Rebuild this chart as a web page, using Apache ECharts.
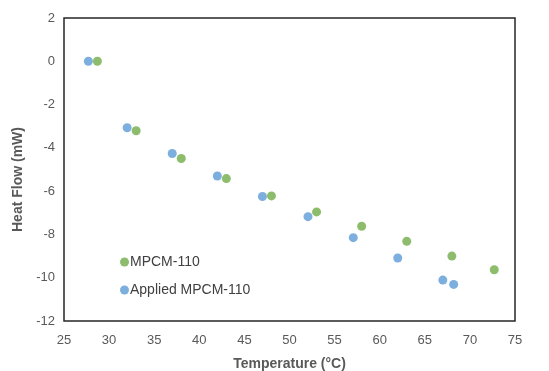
<!DOCTYPE html>
<html><head><meta charset="utf-8">
<script src="https://cdn.jsdelivr.net/npm/echarts@6/dist/echarts.min.js"></script>
<style>html,body{margin:0;padding:0;background:#fff}#c{width:549px;height:371px}</style>
</head><body><div id="c"></div>
<script>
const mpcmX = [28.7, 33, 38, 43, 48, 53, 58, 63, 68, 72.7];
const mpcmY = [0, -3.21, -4.49, -5.42, -6.22, -6.96, -7.62, -8.32, -9.0, -9.63];
const appliedX = [27.7, 32, 37, 42, 47, 52.05, 57.07, 62, 67, 68.2];
const appliedY = [0, -3.07, -4.26, -5.3, -6.25, -7.18, -8.15, -9.09, -10.11, -10.31];
const seriesNames = ['MPCM-110', 'Applied MPCM-110'];

const font = 'Liberation Sans, Arial, sans-serif';
const chart = echarts.init(document.getElementById('c'), null, {renderer: 'canvas'});
chart.setOption({
  animation: false,
  backgroundColor: '#fff',
  grid: {left: 64, right: 34, top: 18, bottom: 50, containLabel: false, outerBoundsMode: 'none',
         show: true, borderColor: '#262626', borderWidth: 1.5},
  legend: {
    orient: 'vertical', left: 115, top: 250, itemGap: 14,
    itemWidth: 9, itemHeight: 9,
    textStyle: {fontFamily: font, fontSize: 14, color: '#404040', padding: [0, 0, 0, -4]},
    data: seriesNames.map(n => ({name: n, icon: 'circle'}))
  },
  xAxis: {
    type: 'value', min: 25, max: 75, interval: 5,
    name: 'Temperature (°C)', nameLocation: 'middle', nameGap: 36,
    nameTextStyle: {fontFamily: font, fontSize: 14, fontWeight: 'bold', color: '#595959'},
    axisLine: {show: false}, axisTick: {show: false}, splitLine: {show: false},
    axisLabel: {fontFamily: font, fontSize: 13, color: '#595959', margin: 13}
  },
  yAxis: {
    type: 'value', min: -12, max: 2, interval: 2,
    name: 'Heat Flow (mW)', nameLocation: 'middle', nameGap: 30,
    nameTextStyle: {fontFamily: font, fontSize: 14, fontWeight: 'bold', color: '#595959', padding: [0, 20, 0, 0]},
    axisLine: {show: false}, axisTick: {show: false}, splitLine: {show: false},
    axisLabel: {fontFamily: font, fontSize: 13, color: '#595959', margin: 9}
  },
  series: [
    {name: seriesNames[0], type: 'scatter', symbol: 'circle', symbolSize: 9,
     itemStyle: {color: '#70AD47'}, data: mpcmX.map((x, i) => [x, mpcmY[i]])},
    {name: seriesNames[1], type: 'scatter', symbol: 'circle', symbolSize: 9,
     itemStyle: {color: '#5B9BD5'}, data: appliedX.map((x, i) => [x, appliedY[i]])}
  ]
});
</script></body></html>
